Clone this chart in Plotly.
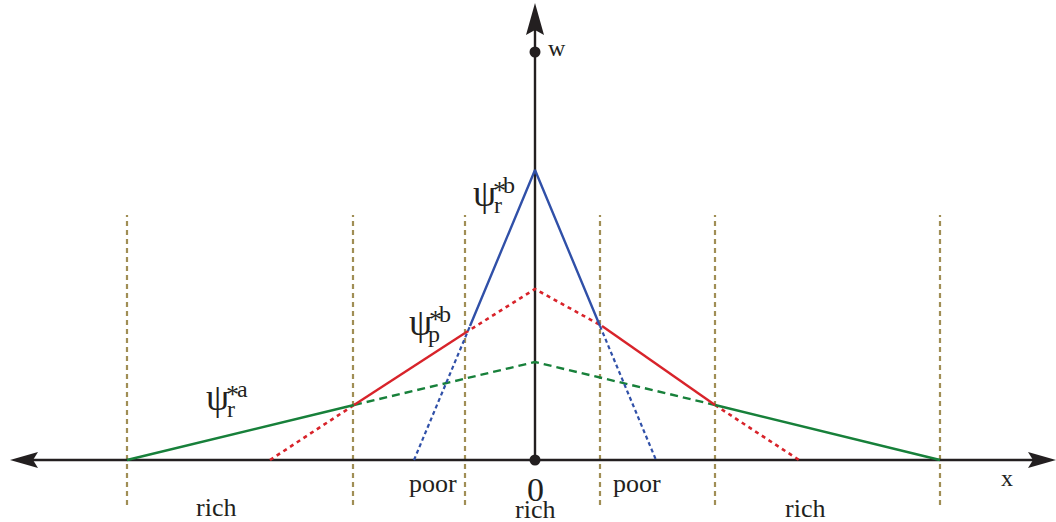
import plotly.graph_objects as go

# ---- data (x: horizontal position, y: value w) ----
blue_solid_x = [-65, 0, 65]
blue_solid_y = [134, 290, 134]
blue_dot_left_x = [-121, -65]
blue_dot_left_y = [0, 134]
blue_dot_right_x = [65, 121]
blue_dot_right_y = [134, 0]

red_solid_left_x = [-181, -70]
red_solid_left_y = [55, 127]
red_solid_right_x = [67, 180]
red_solid_right_y = [134, 55]
red_dot_mid_x = [-70, 0, 67]
red_dot_mid_y = [127, 171, 134]
red_dot_left_x = [-265, -181]
red_dot_left_y = [0, 55]
red_dot_right_x = [180, 264]
red_dot_right_y = [55, 0]

green_solid_left_x = [-408, -181]
green_solid_left_y = [0, 55]
green_solid_right_x = [180, 405]
green_solid_right_y = [55, 0]
green_dash_x = [-181, 0, 180]
green_dash_y = [55, 98, 55]

region_bounds = [-408, -182, -70, 65, 180, 405]
bound_top, bound_bottom = 245, -45

x_axis_ends = [-525, 521]
y_axis_ends = [0, 457]
w_mark = 408

labels_text = ["rich", "poor", "0", "rich", "poor", "rich", "x", "w"]
labels_x = [-319, -102, 0, 0, 102, 270, 472, 22]
labels_y = [-47, -23, -29, -49, -23, -48, -18, 412]

psi_text = ["r", "p", "r"]
psi_sup = ["b", "b", "a"]
psi_x = [-51, -115, -318]
psi_y = [267, 138, 63]

BLUE = "#3050A8"
RED = "#D8232A"
GREEN = "#17803A"
OLIVE = "#A08E55"
BLACK = "#231F20"
FONT = "Liberation Serif"

fig = go.Figure()

def seg(x, y, color, dash="solid", width=2.4):
    fig.add_trace(go.Scatter(x=x, y=y, mode="lines",
                             line=dict(color=color, width=width, dash=dash),
                             hoverinfo="skip", showlegend=False))

# region boundaries
for bx in region_bounds:
    seg([bx, bx], [bound_bottom, bound_top], OLIVE, "5px,4px", 2.2)

# axes
seg([x_axis_ends[0] + 20, x_axis_ends[1] - 20], [0, 0], BLACK, "solid", 2.4)
seg([0, 0], [0, y_axis_ends[1] - 20], BLACK, "solid", 2.4)

# lines
seg(green_dash_x, green_dash_y, GREEN, "8px,5px", 2.4)
seg(red_dot_mid_x, red_dot_mid_y, RED, "4px,4px", 2.6)
seg(red_dot_left_x, red_dot_left_y, RED, "4px,4px", 2.6)
seg(red_dot_right_x, red_dot_right_y, RED, "4px,4px", 2.6)
seg(blue_dot_left_x, blue_dot_left_y, BLUE, "4px,3px", 2.2)
seg(blue_dot_right_x, blue_dot_right_y, BLUE, "4px,3px", 2.2)
seg(green_solid_left_x, green_solid_left_y, GREEN)
seg(green_solid_right_x, green_solid_right_y, GREEN)
seg(red_solid_left_x, red_solid_left_y, RED)
seg(red_solid_right_x, red_solid_right_y, RED)
seg(blue_solid_x, blue_solid_y, BLUE)

# dots at origin and w
fig.add_trace(go.Scatter(x=[0, 0], y=[0, w_mark], mode="markers",
                         marker=dict(color=BLACK, size=11),
                         hoverinfo="skip", showlegend=False))

# arrowheads
L, H, N = 28, 8, 23
xl, xr = x_axis_ends
yt = y_axis_ends[1]
shapes = [
    dict(type="path", path=f"M {xl},0 L {xl+L},{H} L {xl+N},0 L {xl+L},{-H} Z",
         fillcolor=BLACK, line=dict(width=0)),
    dict(type="path", path=f"M {xr},0 L {xr-L},{H} L {xr-N},0 L {xr-L},{-H} Z",
         fillcolor=BLACK, line=dict(width=0)),
    dict(type="path", path=f"M 0,{yt} L {H+1},{yt-L-4} L 0,{yt-N-4} L {-H-1},{yt-L-4} Z",
         fillcolor=BLACK, line=dict(width=0)),
]

annotations = []
for t, x, y in zip(labels_text, labels_x, labels_y):
    size = 34 if t == "0" else (24 if t in ("x", "w") else 26)
    annotations.append(dict(x=x, y=y, text=t, showarrow=False,
                            font=dict(family=FONT, size=size, color=BLACK)))

# psi labels
for sub, sup, px_, py_ in zip(psi_text, psi_sup, psi_x, psi_y):
    annotations.append(dict(x=px_, y=py_, text="ψ", showarrow=False,
                            font=dict(family=FONT, size=37, color=BLACK)))
    annotations.append(dict(x=px_ + 15, y=py_ + 3, text="*", showarrow=False,
                            font=dict(family=FONT, size=26, color=BLACK)))
    annotations.append(dict(x=px_ + 25, y=py_ + 8, text=sup, showarrow=False,
                            font=dict(family=FONT, size=24, color=BLACK)))
    annotations.append(dict(x=px_ + 14, y=py_ - 12, text=sub, showarrow=False,
                            font=dict(family=FONT, size=24, color=BLACK)))

fig.update_layout(
    width=1056, height=522,
    margin=dict(l=0, r=0, t=0, b=0),
    paper_bgcolor="white", plot_bgcolor="white",
    xaxis=dict(range=[-535, 521], visible=False, fixedrange=True),
    yaxis=dict(range=[-62, 460], visible=False, fixedrange=True),
    shapes=shapes, annotations=annotations,
    showlegend=False,
)

fig.write_html("out.html", config={"displayModeBar": False},
               post_script="document.body.style.margin='0';document.body.style.overflow='hidden';")
